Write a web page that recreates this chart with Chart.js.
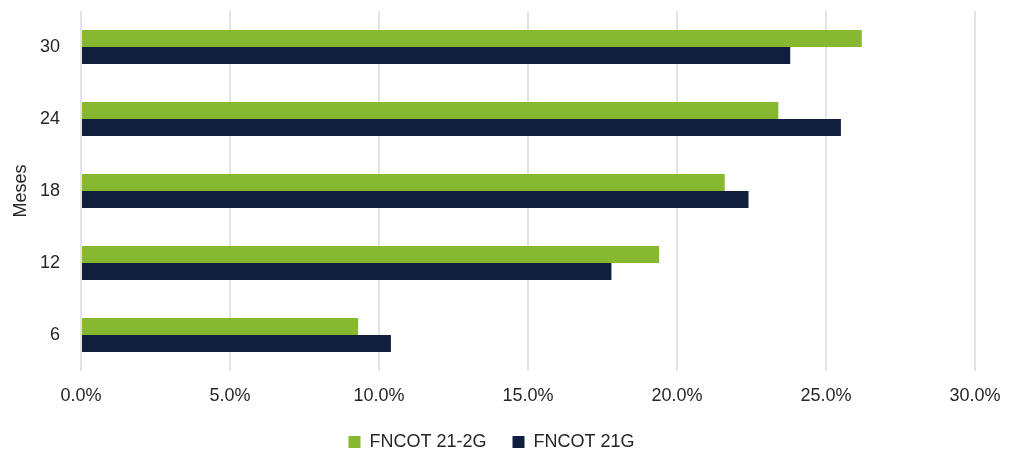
<!DOCTYPE html>
<html>
<head>
<meta charset="utf-8">
<script src="https://cdn.jsdelivr.net/npm/chart.js@4"></script>
<style>
  html, body { margin: 0; padding: 0; background: #fff; }
  #wrap { width: 1018px; height: 451px; position: relative; }
</style>
</head>
<body>
<div id="wrap"><canvas id="chart"></canvas></div>
<script>
// data
const categories = ['30', '24', '18', '12', '6'];
const fncot212g = [26.2, 23.4, 21.6, 19.4, 9.3];
const fncot21g = [23.8, 25.5, 22.4, 17.8, 10.4];
const seriesNames = ['FNCOT 21-2G', 'FNCOT 21G'];

const FONT = "'Liberation Sans', Arial, sans-serif";
const TEXT = '#262626';

new Chart(document.getElementById('chart'), {
    type: 'bar',
    data: {
        labels: categories,
        datasets: [
            { label: seriesNames[0], data: fncot212g, backgroundColor: '#86b830' },
            { label: seriesNames[1], data: fncot21g, backgroundColor: '#0f1f3d' }
        ]
    },
    options: {
        indexAxis: 'y',
        responsive: true,
        maintainAspectRatio: false,
        animation: false,
        categoryPercentage: 0.47,
        barPercentage: 1.0,
        layout: { padding: { top: 11, left: 8, right: 43, bottom: -10 } },
        plugins: {
            tooltip: { enabled: false },
            legend: {
                position: 'bottom',
                labels: {
                    font: { family: FONT, size: 18 },
                    color: TEXT,
                    boxWidth: 12,
                    boxHeight: 12,
                    padding: 26
                }
            }
        },
        scales: {
            x: {
                min: 0,
                max: 30,
                ticks: {
                    stepSize: 5,
                    callback: v => v.toFixed(1) + '%',
                    font: { family: FONT, size: 18 },
                    color: TEXT,
                    padding: 14
                },
                grid: { color: '#e4e4e4', lineWidth: 2, drawTicks: false },
                border: { display: false },
                // only keep the padding above the labels
                afterFit: scale => {
                    scale.height = 36;
                    scale.paddingLeft = 0;
                    scale.paddingRight = 0;
                }
            },
            y: {
                ticks: {
                    font: { family: FONT, size: 18 },
                    color: TEXT,
                    padding: 21
                },
                grid: { display: false, drawTicks: false },
                border: { display: false },
                title: {
                    display: true,
                    text: 'Meses',
                    font: { family: FONT, size: 18 },
                    color: TEXT,
                    padding: { top: 2, bottom: 8 }
                },
                afterFit: scale => {
                    scale.paddingTop = 0;
                    scale.paddingBottom = 0;
                    scale.width = 73;
                }
            }
        }
    }
});
</script>
</body>
</html>
